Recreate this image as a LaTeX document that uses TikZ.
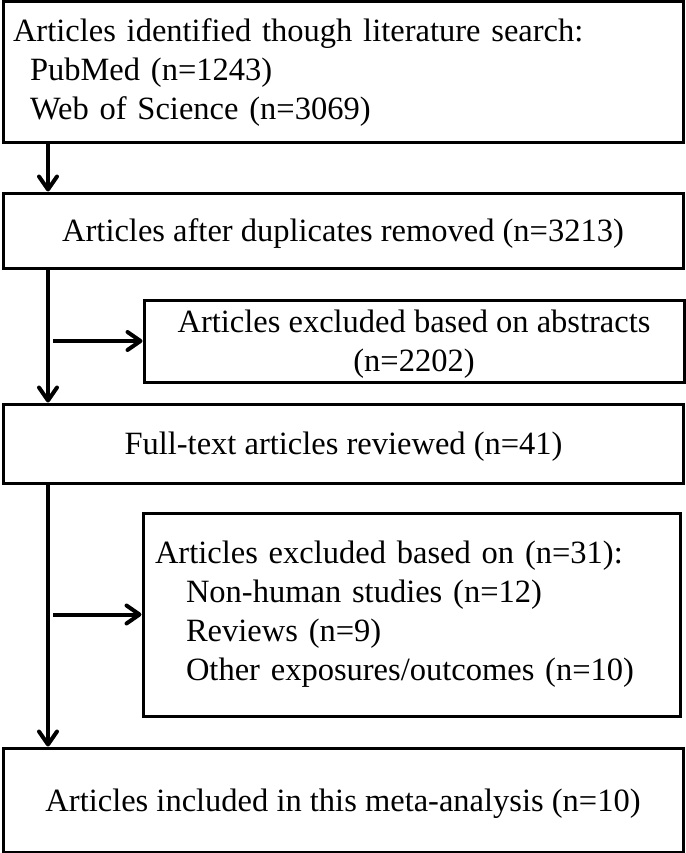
\documentclass[tikz,border=0pt]{standalone}
\usepackage{fontspec}
\setmainfont{Liberation Serif}
\usetikzlibrary{arrows.meta}

\begin{document}
\begin{tikzpicture}[x=1pt,y=-1pt,
    box/.style={draw, rectangle, line width=3pt, inner xsep=10pt, inner ysep=0pt,
        font=\fontsize{32.5}{39}\selectfont},
    line box/.style={box, text depth=0pt},
    arr/.style={line width=4pt, -{Straight Barb[length=13pt,width=18pt,round]}}]

    \useasboundingbox (0,0) rectangle (685,853);

    \node[box, minimum width=680pt, minimum height=141pt, text width=660pt, align=left] (search) at (343,72.5)
        {Articles identified though literature search:\\
         \hspace*{17pt}PubMed (n=1243)\\
         \hspace*{17pt}Web of Science (n=3069)};
    \node[line box, minimum width=680pt, minimum height=75pt] (dedup) at (343,230.5)
        {Articles after duplicates removed (n=3213)};
    \node[line box, minimum width=540pt, minimum height=82pt, align=center] (abstr) at (414,341)
        {Articles excluded based on abstracts\\(n=2202)};
    \node[line box, minimum width=680pt, minimum height=79pt] (fulltext) at (343.5,443.5)
        {Full-text articles reviewed (n=41)};
    \node[box, minimum width=537pt, minimum height=203pt, text width=513pt, align=left] (fullexcl) at (411.5,614.5)
        {Articles excluded based on (n=31):\\
         \hspace*{31pt}Non-human studies (n=12)\\
         \hspace*{31pt}Reviews (n=9)\\
         \hspace*{31pt}Other exposures/outcomes (n=10)};
    \node[line box, minimum width=680pt, minimum height=104pt] (included) at (343,800)
        {Articles included in this meta-analysis (n=10)};

    \coordinate (trunk) at (48,0);
    \coordinate (stub) at (53,0);

    \draw[arr] (search.south -| trunk) -- (dedup.north -| trunk);
    \draw[arr] (dedup.south -| trunk) -- (fulltext.north -| trunk);
    \draw[arr] (abstr.west -| stub) -- (abstr.west);
    \draw[arr] (fulltext.south -| trunk) -- (included.north -| trunk);
    \draw[arr] (fullexcl.west -| stub) -- (fullexcl.west);

\end{tikzpicture}
\end{document}
